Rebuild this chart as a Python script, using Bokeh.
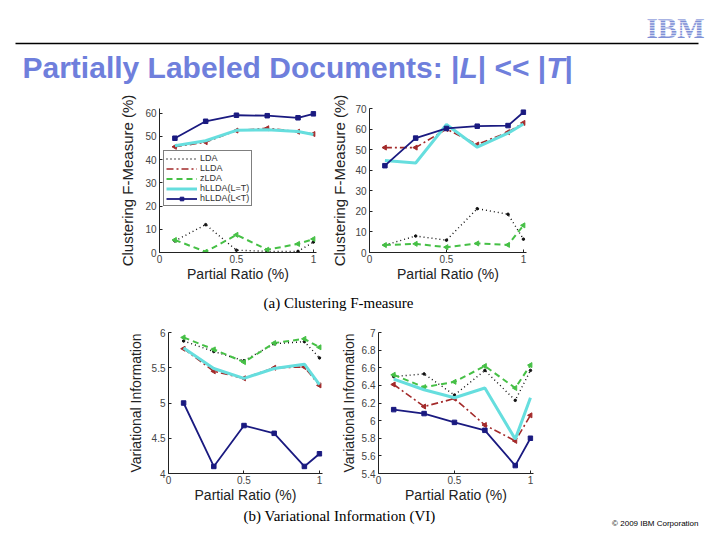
import math
from bokeh.plotting import figure
from bokeh.layouts import column, row
from bokeh.models import Range1d, FixedTicker, Legend, LegendItem, Spacer
from bokeh.embed import file_html
from bokeh.resources import INLINE
from bokeh.core.properties import value

# ---------------- data ----------------
ratios = [0.1, 0.3, 0.5, 0.7, 0.9, 1.0]
series_names = ["LDA", "LLDA", "zLDA", "hLLDA(L=T)", "hLLDA(L<T)"]

f1_lda = [5.0, 12.0, 1.0, 0.5, 0.5, 4.5]
f1_llda = [45.5, 47.5, 52.5, 53.5, 52.0, 51.0]
f1_zlda = [5.4, 0.3, 7.6, 1.2, 3.7, 5.8]
f1_hllda_eq = [46.0, 48.1, 52.6, 52.9, 52.1, 50.8]
f1_hllda_lt = [49.2, 56.5, 59.1, 58.9, 58.0, 59.7]

f2_lda = [3.6, 8.0, 6.0, 21.3, 18.6, 6.5]
f2_llda = [51.0, 51.0, 60.0, 52.5, 58.5, 63.0]
f2_zlda = [3.6, 4.2, 2.6, 4.4, 3.7, 13.2]
f2_hllda_eq = [44.7, 43.5, 62.2, 51.2, 58.0, 62.5]
f2_hllda_lt = [42.2, 55.6, 60.3, 61.4, 61.7, 68.2]

vi1_lda = [5.88, 5.73, 5.60, 5.84, 5.87, 5.64]
vi1_llda = [5.77, 5.45, 5.35, 5.50, 5.51, 5.25]
vi1_zlda = [5.93, 5.76, 5.58, 5.85, 5.91, 5.79]
vi1_hllda_eq = [5.78, 5.49, 5.35, 5.49, 5.55, 5.26]
vi1_hllda_lt = [5.00, 4.10, 4.68, 4.57, 4.10, 4.28]

vi2_lda = [6.50, 6.53, 6.29, 6.57, 6.23, 6.57]
vi2_llda = [6.41, 6.16, 6.25, 5.95, 5.77, 6.06]
vi2_zlda = [6.52, 6.38, 6.44, 6.62, 6.37, 6.63]
vi2_hllda_eq = [6.47, 6.35, 6.26, 6.37, 5.79, 6.26]
vi2_hllda_lt = [6.125, 6.08, 5.98, 5.89, 5.49, 5.80]

x_ticks = [0, 0.5, 1]
f1_yticks = [0, 10, 20, 30, 40, 50, 60]
f2_yticks = [0, 10, 20, 30, 40, 50, 60, 70]
vi1_yticks = [4, 4.5, 5, 5.5, 6]
vi2_yticks = [5.4, 5.6, 5.8, 6, 6.2, 6.4, 6.6, 6.8, 7]

x_label = "Partial Ratio (%)"
f_label = "Clustering F-Measure (%)"
vi_label = "Variational Information"
title_parts = ["Partially Labeled Documents: |", "L", "| << |", "T", "|"]
caption_a = "(a) Clustering F-measure"
caption_b = "(b) Variational Information (VI)"
copyright_text = "\u00a9 2009 IBM Corporation"
logo_text = "IBM"

# ---------------- styles ----------------
C_LDA = "#111111"
C_LLDA = "#a32a2a"
C_ZLDA = "#46c046"
C_EQ = "#66dede"
C_LT = "#1a1a80"
TITLE_C = "#6f7fdc"
SANS = "Liberation Sans"
SERIF = "Liberation Serif"
W = 712


def fmt(t):
    return ("%g" % t)


def blank(height):
    f = figure(width=W, height=height, x_range=Range1d(0, W), y_range=Range1d(height, 0),
               x_axis_type=None, y_axis_type=None, output_backend="svg", toolbar_location=None,
               min_border=0)
    f.outline_line_color = None
    f.xgrid.visible = False
    f.ygrid.visible = False
    return f


def make_panel(width, height, bl, br, bt, bb, yr, yticks, ylabel, ylabel_size, ystand):
    p = figure(width=width, height=height, x_range=Range1d(0, 1.02), y_range=Range1d(*yr),
               output_backend="svg", toolbar_location=None,
               min_border_left=bl, min_border_right=br, min_border_top=bt, min_border_bottom=bb)
    p.outline_line_color = None
    p.xgrid.visible = False
    p.ygrid.visible = False
    p.xaxis.ticker = FixedTicker(ticks=x_ticks)
    p.yaxis.ticker = FixedTicker(ticks=yticks)
    p.xaxis.major_label_overrides = {t: fmt(t) for t in x_ticks}
    p.yaxis.major_label_overrides = {t: fmt(t) for t in yticks}
    for ax in (p.xaxis[0], p.yaxis[0]):
        ax.axis_line_color = "#222222"
        ax.axis_line_width = 1
        ax.major_tick_in = 3
        ax.major_tick_out = 0
        ax.major_tick_line_color = "#222222"
        ax.minor_tick_line_color = None
        ax.major_label_text_font = SANS
        ax.major_label_text_font_size = "10px"
        ax.major_label_text_color = "#444444"
        ax.major_label_standoff = 3
        ax.axis_label_text_font = SANS
        ax.axis_label_text_font_style = "normal"
        ax.axis_label_text_color = "#222222"
    p.xaxis.axis_label = x_label
    p.xaxis.axis_label_text_font_size = "14px"
    p.xaxis.major_label_standoff = 2
    p.xaxis.axis_label_standoff = 0
    p.yaxis.axis_label = ylabel
    p.yaxis.axis_label_text_font_size = ylabel_size
    p.yaxis.axis_label_standoff = ystand
    return p


def draw(p, lda, llda, zlda, eq, lt):
    r = {}
    r["LDA"] = [p.line(ratios, lda, line_color=C_LDA, line_width=1.4, line_dash="1 3"),
                p.scatter(ratios, lda, marker="circle", size=2.5, color=C_LDA)]
    r["LLDA"] = [p.line(ratios, llda, line_color=C_LLDA, line_width=1.6, line_dash="7 3 2 3"),
                 p.scatter(ratios, llda, marker="triangle", angle=math.pi / 2, size=5, color=C_LLDA)]
    r["zLDA"] = [p.line(ratios, zlda, line_color=C_ZLDA, line_width=2, line_dash="6 4"),
                 p.scatter(ratios, zlda, marker="triangle", angle=math.pi / 2, size=5, color=C_ZLDA)]
    r["hLLDA(L=T)"] = [p.line(ratios, eq, line_color=C_EQ, line_width=3)]
    r["hLLDA(L<T)"] = [p.line(ratios, lt, line_color=C_LT, line_width=1.8),
                       p.scatter(ratios, lt, marker="square", size=4.5, color=C_LT)]
    return r


# ---------------- header ----------------
top = blank(95)
top.segment(x0=[15], y0=[43], x1=[698], y1=[43], line_color="black", line_width=1.3)
seg_x = [22]
widths = [436.9, 18.3, 68.5, 18.3]
for w in widths:
    seg_x.append(seg_x[-1] + w)
styles = ["bold", "bold italic", "bold", "bold italic", "bold"]
for txt, xx, st in zip(title_parts, seg_x, styles):
    top.text(x=[xx], y=[67], text=[txt], text_font=value(SANS), text_font_size="30px",
             text_font_style=st, text_color=TITLE_C, text_baseline="middle", text_align="left")
top.text(x=[675], y=[27], text=[logo_text], text_font=value(SERIF), text_font_size="29px",
         text_font_style="bold", text_color="#7f90d6", text_baseline="middle", text_align="center")
stripe_y = [17 + k * 2.6 for k in range(1, 8)]
top.segment(x0=[646] * 7, y0=stripe_y, x1=[704] * 7, y1=stripe_y, line_color="white", line_width=0.8)

# ---------------- row 1 ----------------
p1 = make_panel(210, 195, 45, 8, 8, 38, (0, 62), f1_yticks, f_label, "15px", 6)
r1 = draw(p1, f1_lda, f1_llda, f1_zlda, f1_hllda_eq, f1_hllda_lt)
items = [LegendItem(label=n, renderers=[r1[n][0]] if n != "hLLDA(L<T)" else r1[n]) for n in series_names]
leg = Legend(items=items, location=(4, 46), label_text_font=SANS, label_text_font_size="9px",
             label_text_color="#333333", label_height=9, glyph_height=9, glyph_width=31,
             spacing=0, padding=2, margin=0, label_standoff=3,
             border_line_color="black", border_line_width=1, background_fill_alpha=1)
p1.add_layout(leg)

p2 = make_panel(216, 195, 45, 14, 13, 38, (0, 70), f2_yticks, f_label, "15px", 4)
draw(p2, f2_lda, f2_llda, f2_zlda, f2_hllda_eq, f2_hllda_lt)

row1 = row(Spacer(width=114, height=195), p1, p2, Spacer(width=172, height=195))

# ---------------- caption a ----------------
cap_a = blank(28)
cap_a.text(x=[338], y=[12], text=[caption_a], text_font=value(SERIF), text_font_size="15px",
           text_color="black", text_baseline="middle", text_align="center")

# ---------------- row 2 ----------------
p3 = make_panel(209, 187, 47, 8, 14, 31, (4, 6), vi1_yticks, vi_label, "14px", 5)
draw(p3, vi1_lda, vi1_llda, vi1_zlda, vi1_hllda_eq, vi1_hllda_lt)
p4 = make_panel(217, 187, 48, 14, 12, 30, (5.4, 7), vi2_yticks, vi_label, "14px", 2)
draw(p4, vi2_lda, vi2_llda, vi2_zlda, vi2_hllda_eq, vi2_hllda_lt)
row2 = row(Spacer(width=121, height=187), p3, p4, Spacer(width=165, height=187))

# ---------------- caption b ----------------
cap_b = blank(31)
cap_b.text(x=[339], y=[10], text=[caption_b], text_font=value(SERIF), text_font_size="15px",
           text_color="black", text_baseline="middle", text_align="center")
cap_b.text(x=[698], y=[18], text=[copyright_text], text_font=value(SANS), text_font_size="8px",
           text_color="black", text_baseline="middle", text_align="right")

layout = column(top, row1, cap_a, row2, cap_b)

open("out.html", "w").write(file_html(layout, INLINE))
